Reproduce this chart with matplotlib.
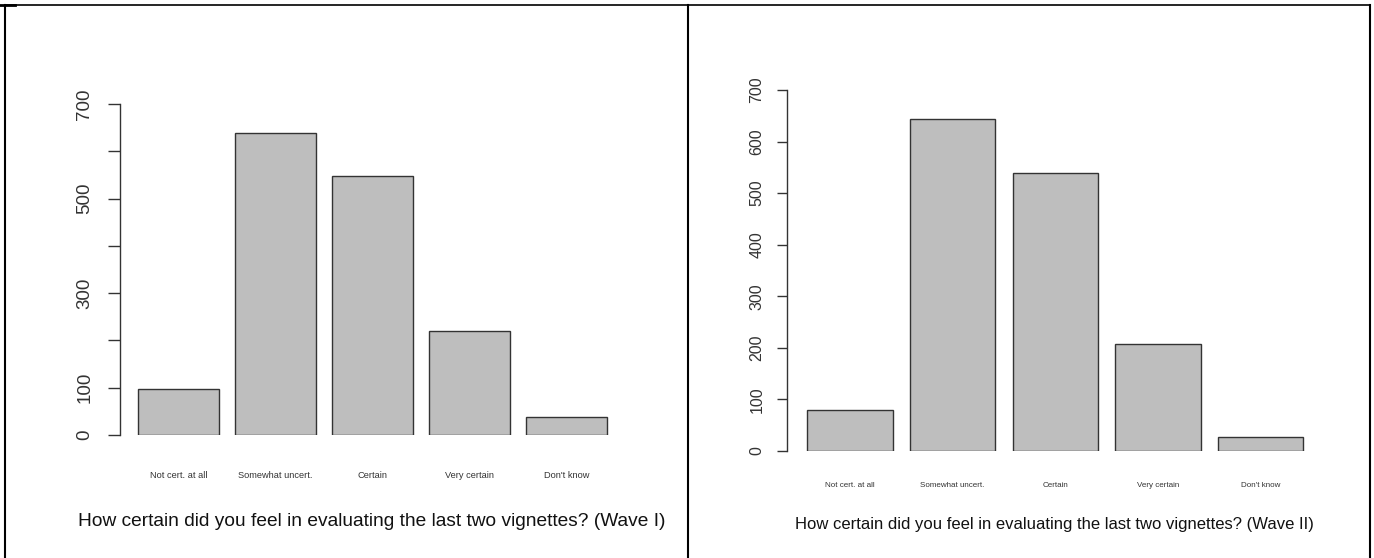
import numpy as np
import matplotlib.pyplot as plt
from matplotlib.lines import Line2D

plt.rcParams['font.family'] = ['Liberation Sans', 'DejaVu Sans']

categories = ["Not cert. at all", "Somewhat uncert.", "Certain", "Very certain", "Don't know"]
wave1 = [98, 638, 547, 220, 38]
wave2 = [80, 644, 539, 208, 27]
yticks = [0, 100, 200, 300, 400, 500, 600, 700]
wave1_ylabels = ["0", "100", "", "300", "", "500", "", "700"]
wave2_ylabels = ["0", "100", "200", "300", "400", "500", "600", "700"]

W, H = 1374, 558
fig = plt.figure(figsize=(W / 100, H / 100), dpi=100)

def px_rect(x0, x1, ytop, ybot):
    return [x0 / W, (H - ybot) / H, (x1 - x0) / W, (ybot - ytop) / H]

def draw_bars(ax, vals, ylabels, xlim, tick_fs, tick_len, tick_pad, cat_fs, cat_pad):
    x = np.arange(len(vals))
    ax.bar(x, vals, width=0.833, color='#bebebe', edgecolor='#333333', linewidth=1.0)
    ax.set_xlim(*xlim)
    ax.set_ylim(0, 700)
    for s in ['top', 'right', 'bottom']:
        ax.spines[s].set_visible(False)
    ax.spines['left'].set_color('#333333')
    ax.spines['left'].set_linewidth(1.0)
    ax.set_yticks(yticks)
    ax.set_yticklabels(ylabels, rotation=90, va='center', fontsize=tick_fs, color='#333333')
    ax.tick_params(axis='y', length=tick_len, width=1.0, color='#333333', pad=tick_pad)
    ax.set_xticks(x)
    ax.set_xticklabels(categories, fontsize=cat_fs, color='#333333')
    ax.tick_params(axis='x', length=0, pad=cat_pad)
    ax.patch.set_alpha(0)

ax1 = fig.add_axes(px_rect(120, 620, 104, 435))
draw_bars(ax1, wave1, wave1_ylabels, (-0.603, 4.552), 13.5, 8.6, 10.5, 6.7, 26)

ax2 = fig.add_axes(px_rect(787, 1320, 90, 451))
draw_bars(ax2, wave2, wave2_ylabels, (-0.614, 4.58), 11.5, 7.2, 9, 5.8, 22.5)

fig.text(371.5 / W, 1 - 522 / H, "How certain did you feel in evaluating the last two vignettes? (Wave I)",
         ha='center', va='center', fontsize=13.8, color='#111111')
fig.text(1054 / W, 1 - 525 / H, "How certain did you feel in evaluating the last two vignettes? (Wave II)",
         ha='center', va='center', fontsize=12.0, color='#111111')

# table cell borders
def fline(xs, ys, lw=1.5):
    fig.add_artist(Line2D([v / W for v in xs], [1 - v / H for v in ys], color='black', linewidth=lw))

fline([5, 1370], [5, 5], 1.2)
fline([0, 15], [5, 5], 2.0)
fline([5, 5], [5, 558], 1.5)
fline([688, 688], [5, 558], 1.5)
fline([1370, 1370], [5, 558], 1.5)

fig.savefig("out.png", dpi=100)
